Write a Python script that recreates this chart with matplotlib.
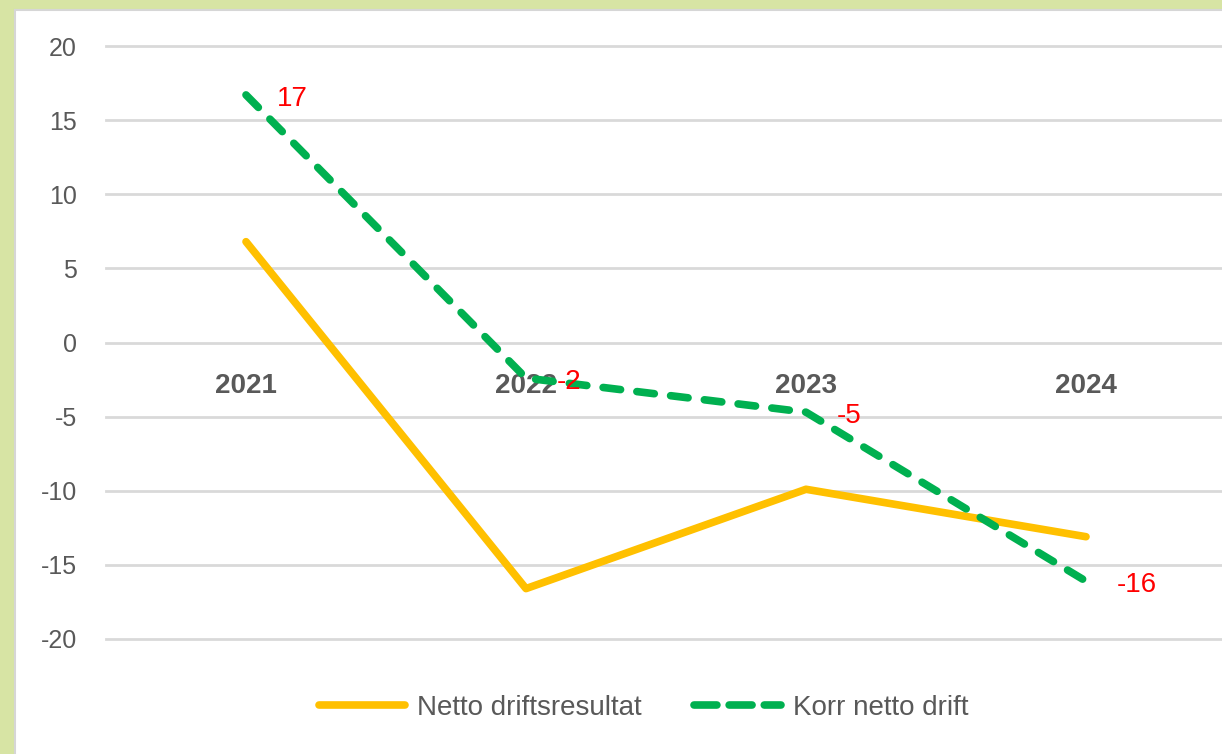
import matplotlib
matplotlib.use("Agg")
import matplotlib.pyplot as plt
from matplotlib.patches import Rectangle

years = ["2021", "2022", "2023", "2024"]
netto = [6.8, -16.6, -9.9, -13.1]
korr = [16.7, -2.4, -4.7, -16.1]
korr_labels = ["17", "-2", "-5", "-16"]
yticks = [20, 15, 10, 5, 0, -5, -10, -15, -20]

plt.rcParams["font.family"] = ["Liberation Sans", "DejaVu Sans"]

fig = plt.figure(figsize=(12.22, 7.54), dpi=100)
fig.patch.set_facecolor("#D7E4A4")

# white chart panel with thin grey edge
panel = Rectangle((15 / 1222, -0.1), 1.1, 1.1 - 10 / 754, transform=fig.transFigure,
                  facecolor="white", edgecolor="#D6D6D6", linewidth=1.5, zorder=-5)
fig.patches.append(panel)

ax = fig.add_axes([106 / 1222, 1 - 639 / 754, 1120 / 1222, 593 / 754])
ax.set_facecolor("none")
ax.set_zorder(2)

x = list(range(len(years)))
ax.plot(x, netto, color="#FFC000", lw=5.5, solid_capstyle="round",
        solid_joinstyle="round", label="Netto driftsresultat", zorder=3)
ax.plot(x, korr, color="#00B050", lw=5.5, linestyle=(0, (2.3, 2.15)),
        dash_capstyle="round", dash_joinstyle="round",
        label="Korr netto drift", zorder=4)

for xi, yi, lab in zip(x, korr, korr_labels):
    ax.annotate(lab, (xi, yi), xytext=(22, -3), textcoords="offset points",
                ha="left", va="center", color="#FF0000", fontsize=20, zorder=5)

ax.set_xlim(-0.5, 3.5)
ax.set_ylim(-20, 20)
ax.set_yticks(yticks)
ax.set_yticklabels([str(v) for v in yticks])
ax.grid(axis="y", color="#D9D9D9", lw=2, zorder=1)
ax.set_axisbelow(True)
for gl in ax.get_ygridlines():
    gl.set_clip_on(False)

ax.set_xticks(x)
ax.set_xticklabels(years)
ax.spines["bottom"].set_position(("data", 0))
for s in ax.spines.values():
    s.set_visible(False)
ax.tick_params(axis="x", length=0, pad=22, labelsize=20, labelcolor="#595959")
ax.tick_params(axis="y", length=0, pad=21, labelsize=18, labelcolor="#595959")
for lab in ax.get_xticklabels():
    lab.set_fontweight("bold")

leg = fig.legend(loc="center", bbox_to_anchor=(643.5 / 1222, 1 - 708 / 754),
                 ncol=2, frameon=False, fontsize=20, handlelength=3.1,
                 handletextpad=0.43, columnspacing=1.9)
for t in leg.get_texts():
    t.set_color("#595959")
for h in leg.legend_handles:
    if h.get_label() == "Korr netto drift":
        h.set_linestyle((0, (3.0, 1.6)))

fig.savefig("out.png", dpi=100, facecolor=fig.get_facecolor())
